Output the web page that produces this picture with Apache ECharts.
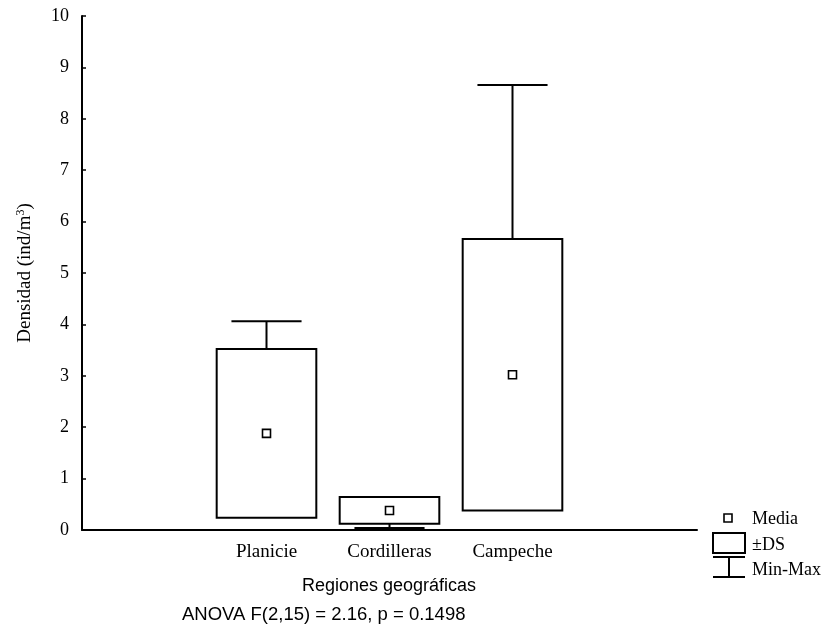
<!DOCTYPE html>
<html>
<head>
<meta charset="utf-8">
<script src="https://cdn.jsdelivr.net/npm/echarts@6/dist/echarts.min.js"></script>
<style>
  html, body { margin: 0; padding: 0; background: #fff; }
  #chart { width: 822px; height: 631px; }
</style>
</head>
<body>
<div id="chart"></div>
<script>
// Category slots: an empty slot either side of the three regions
const categories = ['', 'Planicie', 'Cordilleras', 'Campeche', ''];
const regions = ['Planicie', 'Cordilleras', 'Campeche'];
// Density per region (ind/m³)
const means = [1.88, 0.38, 3.02];
const sds = [1.64, 0.26, 2.64];
const mins = [0.35, 0.04, 0.45];
const maxs = [4.06, 0.60, 8.66];
const yTicks = [0, 1, 2, 3, 4, 5, 6, 7, 8, 9, 10];

const serif = '"Liberation Serif", "Times New Roman", serif';
const sans = '"Liberation Sans", Arial, sans-serif';

const rows = regions.map((r, i) => [categories.indexOf(r), means[i], sds[i], mins[i], maxs[i]]);

function renderBox(params, api) {
  const x = api.value(0);
  const mean = api.value(1), sd = api.value(2), mn = api.value(3), mx = api.value(4);
  const slot = api.size([1, 0])[0];
  const bw = slot * 0.81, cw = slot * 0.57;
  const top = api.coord([x, mean + sd]);
  const bot = api.coord([x, mean - sd]);
  const mid = api.coord([x, mean]);
  const lineStyle = { stroke: '#000', lineWidth: 2, fill: null };
  const children = [];
  // whiskers are drawn only where the extreme lies outside the ±SD box
  if (mx > mean + sd) {
    const p = api.coord([x, mx]);
    children.push({ type: 'line', shape: { x1: p[0], y1: top[1], x2: p[0], y2: p[1] }, style: lineStyle });
    children.push({ type: 'line', shape: { x1: p[0] - cw / 2, y1: p[1], x2: p[0] + cw / 2, y2: p[1] }, style: lineStyle });
  }
  if (mn < mean - sd) {
    const p = api.coord([x, mn]);
    children.push({ type: 'line', shape: { x1: p[0], y1: bot[1], x2: p[0], y2: p[1] }, style: lineStyle });
    children.push({ type: 'line', shape: { x1: p[0] - cw / 2, y1: p[1], x2: p[0] + cw / 2, y2: p[1] }, style: lineStyle });
  }
  children.push({
    type: 'rect',
    shape: { x: top[0] - bw / 2, y: top[1], width: bw, height: bot[1] - top[1] },
    style: { fill: '#fff', stroke: '#000', lineWidth: 2 }
  });
  children.push({
    type: 'rect',
    shape: { x: mid[0] - 4, y: mid[1] - 4, width: 8, height: 8 },
    style: { fill: '#fff', stroke: '#000', lineWidth: 1.6 }
  });
  return { type: 'group', children };
}

const chart = echarts.init(document.getElementById('chart'), null, { renderer: 'canvas' });

chart.setOption({
  animation: false,
  backgroundColor: '#fff',
  grid: { left: 82, right: 125, top: 16, bottom: 101 },
  xAxis: {
    type: 'category',
    data: categories,
    boundaryGap: true,
    axisLine: { lineStyle: { color: '#000', width: 2 } },
    axisTick: { inside: true, length: 4, alignWithLabel: true, lineStyle: { color: '#000', width: 1.5 } },
    axisLabel: { color: '#000', fontFamily: serif, fontSize: 19, margin: 13 },
    splitLine: { show: false }
  },
  yAxis: {
    type: 'value',
    min: yTicks[0],
    max: yTicks[yTicks.length - 1],
    interval: 1,
    axisLine: { show: true, lineStyle: { color: '#000', width: 2 } },
    axisTick: { show: true, inside: true, length: 4, lineStyle: { color: '#000', width: 1.5 } },
    axisLabel: { color: '#000', fontFamily: serif, fontSize: 18, margin: 13 },
    splitLine: { show: false }
  },
  series: [{
    type: 'custom',
    renderItem: renderBox,
    data: rows,
    encode: { x: 0, y: [1, 3, 4] },
    clip: false,
    z: 3
  }],
  graphic: [
    {
      type: 'text', x: 25, y: 273, rotation: Math.PI / 2,
      style: {
        text: 'Densidad (ind/m{sup|3})',
        fill: '#000', font: '19px ' + serif, align: 'center', verticalAlign: 'middle',
        rich: { sup: { fontSize: 12, fontFamily: serif, verticalAlign: 'top', padding: [0, 0, 9, 0] } }
      }
    },
    {
      type: 'text', x: 389, y: 586,
      style: { text: 'Regiones geográficas', fill: '#000', font: '18px ' + sans, align: 'center', verticalAlign: 'middle' }
    },
    {
      type: 'text', x: 182, y: 615,
      style: { text: 'ANOVA F(2,15) = 2.16, p = 0.1498', fill: '#000', font: '18.5px ' + sans, align: 'left', verticalAlign: 'middle' }
    },
    // legend
    { type: 'rect', shape: { x: 724, y: 514, width: 8, height: 8 }, style: { fill: '#fff', stroke: '#000', lineWidth: 1.6 } },
    { type: 'text', x: 752, y: 519, style: { text: 'Media', fill: '#000', font: '18px ' + serif, verticalAlign: 'middle' } },
    { type: 'rect', shape: { x: 713, y: 533, width: 32, height: 20 }, style: { fill: '#fff', stroke: '#000', lineWidth: 2 } },
    { type: 'text', x: 752, y: 545, style: { text: '±DS', fill: '#000', font: '18px ' + serif, verticalAlign: 'middle' } },
    { type: 'line', shape: { x1: 713, y1: 557, x2: 745, y2: 557 }, style: { stroke: '#000', lineWidth: 2 } },
    { type: 'line', shape: { x1: 729, y1: 557, x2: 729, y2: 577 }, style: { stroke: '#000', lineWidth: 2 } },
    { type: 'line', shape: { x1: 713, y1: 577, x2: 745, y2: 577 }, style: { stroke: '#000', lineWidth: 2 } },
    { type: 'text', x: 752, y: 570, style: { text: 'Min-Max', fill: '#000', font: '18px ' + serif, verticalAlign: 'middle' } }
  ]
});
</script>
</body>
</html>
